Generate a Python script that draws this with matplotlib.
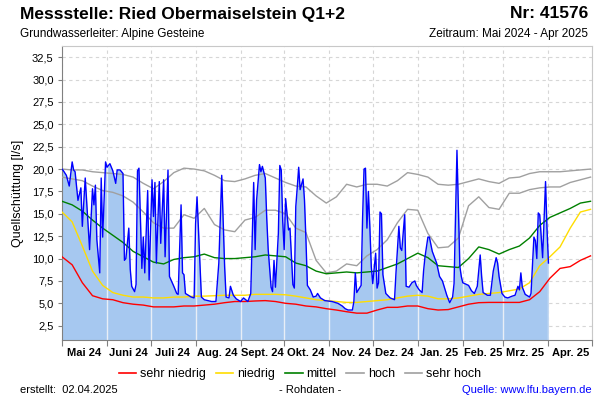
import numpy as np
import matplotlib
matplotlib.use("Agg")
import matplotlib.pyplot as plt
from matplotlib.lines import Line2D

plt.rcParams['font.family'] = ['Liberation Sans', 'DejaVu Sans']

start = np.datetime64('2024-05-01')

# weekly values of the statistic lines (l/s)
stat_days = np.arange(0, 365, 7)
sehr_niedrig = [10.2, 9.3, 7.3, 5.85, 5.5, 5.4, 5.07, 4.9, 4.8, 4.6,
                4.6, 4.6, 4.7, 4.7, 4.8, 4.9, 5.07, 5.2, 5.2,
                5.26, 5.3, 5.2, 5.0, 4.9, 4.7, 4.6, 4.4, 4.25, 4.06,
                3.9, 3.9, 4.25, 4.55, 4.55, 4.7, 4.7, 4.4, 4.25,
                4.3, 4.6, 4.9, 5.07, 5.1, 5.1, 5.1, 5.1, 5.4, 6.3, 7.8, 8.9, 9.1, 9.8, 10.3]
niedrig = [15.2, 14.1, 11.4, 8.6, 7.0, 6.2, 5.9, 5.7, 5.7, 5.6,
           5.6, 5.7, 5.7, 5.8, 5.8, 5.85, 5.9, 5.9, 5.9,
           6.0, 6.0, 6.0, 5.95, 5.8, 5.6, 5.4, 5.3, 5.2, 5.1,
           5.1, 5.2, 5.3, 5.4, 5.6, 5.8, 5.9, 5.8, 5.5,
           5.5, 5.6, 5.8, 6.0, 6.1, 6.2, 6.4, 6.6, 7.3, 9.2, 10.2, 11.3, 13.4, 15.2, 15.5]
mittel = [16.4, 16.0, 15.3, 14.3, 13.4, 12.6, 11.8, 10.8, 10.2, 9.6,
          9.4, 9.9, 10.1, 10.2, 10.5, 10.1, 10.0, 10.0, 10.1,
          10.2, 10.4, 10.3, 10.2, 9.5, 9.2, 8.6, 8.3, 8.4, 8.5,
          8.4, 8.5, 8.6, 9.0, 9.4, 10.0, 10.6, 10.1, 9.2,
          9.1, 9.0, 10.0, 11.3, 11.0, 10.5, 11.0, 11.4, 12.3, 13.7, 14.6, 15.1, 15.6, 16.2, 16.4]
hoch = [19.1, 18.9, 18.7, 18.1, 17.6, 17.4, 17.0, 16.3, 15.2, 14.0,
        13.4, 13.4, 14.9, 14.5, 15.6, 13.8, 13.2, 13.0, 14.3,
        14.6, 15.4, 15.4, 15.0, 13.4, 12.9, 9.8, 8.4, 8.6, 9.4,
        9.2, 10.3, 11.0, 12.1, 14.0, 15.5, 15.4, 12.8, 11.2,
        11.3, 12.3, 15.9, 16.9, 15.7, 15.5, 17.3, 17.3, 17.7, 17.9, 18.0, 18.0, 18.5, 18.8, 19.1]
sehr_hoch = [20.0, 19.9, 19.9, 19.7, 19.6, 19.5, 19.4, 19.1, 18.4, 17.8,
             18.6, 19.6, 20.1, 20.0, 19.8, 19.3, 18.7, 18.6, 18.9,
             19.3, 19.5, 19.0, 18.5, 18.1, 18.0, 17.0, 16.2, 16.9, 18.3,
             18.0, 18.3, 18.3, 18.1, 18.7, 19.6, 19.4, 19.1, 18.3,
             18.2, 18.3, 18.6, 18.9, 18.6, 18.4, 19.0, 19.1, 19.5, 19.7, 19.7, 19.7, 19.8, 19.9, 20.0]

# measured discharge (raw data), days since 1 May 2024
mess_days = [0, 1, 3, 5, 7, 8, 9, 11, 13, 14, 16, 19, 21, 22, 23, 24, 26, 27, 28, 30,
             31, 33, 35, 37, 38, 40, 42, 43, 44, 46, 47, 48, 50, 51, 52, 53, 55, 56, 57, 59,
             60, 62, 63, 64, 65, 67, 68, 70, 71, 73, 74, 77, 79, 80, 82, 83, 84, 85, 87, 89,
             91, 92, 93, 94, 96, 98, 103, 106, 108, 110, 112, 113, 115, 116, 118, 120, 123, 125, 128, 130,
             132, 133, 134, 136, 137, 138, 140, 141, 142, 144, 145, 146, 147, 149, 150, 151, 152, 153, 154, 155,
             156, 157, 159, 160, 161, 162, 163, 164, 166, 167, 168, 169, 171, 172, 173, 175, 176, 178, 181, 186,
             190, 193, 195, 197, 200, 201, 202, 203, 206, 207, 208, 209, 210, 211, 212, 213, 214, 216, 217, 218,
             219, 220, 221, 223, 226, 229, 230, 232, 233, 234, 236, 237, 239, 241, 243, 244, 246, 248, 249, 250,
             252, 253, 255, 258, 260, 262, 265, 267, 269, 270, 272, 273, 274, 275, 276, 280, 282, 284, 286, 288,
             289, 290, 293, 295, 297, 299, 300, 301, 303, 305, 307, 310, 312, 314, 315, 316, 317, 319, 322, 323,
             325, 326, 327, 328, 329, 331, 333, 334, 335]
mess_vals = [20.0, 19.8, 19.3, 18.1, 20.8, 19.9, 19.7, 16.5, 17.9, 13.6, 19.0, 11.0, 17.8, 16.0, 18.2, 12.1, 8.4, 19.0, 12.4, 20.8,
             20.2, 20.6, 19.8, 18.4, 19.9, 19.9, 19.5, 9.8, 10.0, 13.4, 8.8, 6.9, 6.3, 7.1, 19.8, 20.1, 8.9, 12.4, 8.4, 17.6,
             7.6, 18.8, 14.7, 18.5, 9.5, 18.6, 11.7, 18.8, 10.2, 19.9, 8.0, 6.9, 6.1, 6.0, 16.0, 8.4, 8.2, 6.1, 5.9, 5.7,
             5.6, 13.9, 16.9, 13.2, 5.7, 5.4, 5.2, 5.2, 9.5, 19.3, 9.1, 5.7, 5.6, 6.9, 5.9, 5.5, 5.2, 5.6, 5.2, 6.1,
             18.5, 11.0, 16.5, 20.5, 19.7, 20.3, 19.0, 14.5, 11.0, 6.8, 6.3, 9.8, 6.8, 12.8, 20.4, 19.9, 14.2, 11.0, 16.7, 14.9,
             13.2, 13.4, 7.1, 6.7, 15.8, 17.9, 20.2, 17.7, 18.9, 16.5, 12.1, 7.0, 6.5, 6.1, 5.7, 5.8, 6.1, 5.6, 5.3, 5.2,
             5.0, 4.7, 4.4, 4.25, 4.25, 5.2, 8.4, 6.2, 7.0, 14.5, 20.0, 20.1, 13.4, 17.5, 13.6, 9.1, 7.2, 10.6, 6.7, 7.3,
             15.2, 15.0, 8.2, 6.1, 5.6, 5.4, 8.4, 13.6, 11.2, 10.9, 14.9, 6.9, 6.8, 7.3, 7.5, 7.0, 6.5, 6.2, 8.6, 10.2,
             12.4, 12.4, 10.8, 9.5, 8.0, 7.5, 5.9, 5.07, 5.7, 7.2, 22.1, 15.8, 9.1, 8.0, 7.3, 7.0, 6.4, 6.1, 6.9, 10.4,
             8.0, 6.2, 5.9, 5.9, 8.6, 10.1, 9.5, 8.0, 6.1, 5.7, 5.6, 5.8, 5.9, 6.9, 6.5, 8.4, 6.8, 6.0, 5.7, 6.1,
             12.4, 12.0, 10.0, 15.1, 14.9, 10.1, 18.6, 13.4, 9.5]

month_labels = ['Mai 24', 'Juni 24', 'Juli 24', 'Aug. 24', 'Sept. 24', 'Okt. 24',
                'Nov. 24', 'Dez. 24', 'Jan. 25', 'Feb. 25', 'Mrz. 25', 'Apr. 25']
y_ticks = [2.5, 5.0, 7.5, 10.0, 12.5, 15.0, 17.5, 20.0, 22.5, 25.0, 27.5, 30.0, 32.5]

stat_dates = start + stat_days.astype('timedelta64[D]')
mess_dates = start + np.array(mess_days).astype('timedelta64[D]')
months = np.arange(np.datetime64('2024-05'), np.datetime64('2025-06'), np.timedelta64(1, 'M'))
month_starts = months.astype('datetime64[D]')
month_mids = month_starts[:-1] + (month_starts[1:] - month_starts[:-1]) / 2

fig = plt.figure(figsize=(6, 4), dpi=100)
ax = fig.add_axes([62 / 600, 60 / 400, 530 / 600, 294 / 400])
ymin, ymax = 0.9, 33.75

ax.grid(True, which='major', color='#d6d6d6', linestyle=(0, (3, 3)), linewidth=0.8)
ax.set_axisbelow(True)

fill = ax.fill_between(mess_dates, mess_vals, 0, color='#a6c8f0', linewidth=0, zorder=2)
vl = ax.vlines(month_starts[1:-1], 0, ymax, color='#e8eef6', linewidth=1.0, zorder=2.5)
vl.set_clip_path(fill.get_paths()[0], ax.transData)

ax.plot(stat_dates, sehr_hoch, color='#a0a0a0', lw=1.0, zorder=3)
ax.plot(stat_dates, hoch, color='#a0a0a0', lw=1.0, zorder=3)
ax.plot(stat_dates, mittel, color='#008000', lw=1.0, zorder=3)
ax.plot(stat_dates, niedrig, color='#ffdd00', lw=1.0, zorder=3)
ax.plot(stat_dates, sehr_niedrig, color='#ff0000', lw=1.0, zorder=3)
ax.plot(mess_dates, mess_vals, color='#0000ff', lw=1.0, zorder=4)

ax.set_xlim(month_starts[0], month_starts[-1])
ax.set_ylim(ymin, ymax)
ax.set_yticks(y_ticks)
ax.set_yticklabels([f'{v:.1f}'.replace('.', ',') for v in y_ticks], fontsize=8)
ax.set_xticks(month_starts)
ax.set_xticklabels([])
ax.set_xticks(month_mids, minor=True)
ax.set_xticklabels(month_labels, minor=True, fontsize=8, fontweight='bold')
ax.tick_params(axis='x', which='minor', length=0, pad=6)
ax.tick_params(axis='x', which='major', length=4, color='#808080')
ax.tick_params(axis='y', length=3, color='#808080', pad=3)
ax.set_ylabel('Quellschüttung [l/s]', fontsize=9, labelpad=6)
for s in ['left', 'bottom']:
    ax.spines[s].set_color('#808080')
for s in ['top', 'right']:
    ax.spines[s].set_color('#c8c8c8')

fig.text(20 / 600, 1 - 14 / 400, 'Messstelle: Ried Obermaiselstein Q1+2', fontsize=12.5,
         fontweight='bold', ha='left', va='center')
fig.text(588 / 600, 1 - 14 / 400, 'Nr: 41576', fontsize=12.5, fontweight='bold',
         ha='right', va='center')
fig.text(20 / 600, 1 - 34 / 400, 'Grundwasserleiter: Alpine Gesteine', fontsize=8.5,
         ha='left', va='center')
fig.text(588 / 600, 1 - 34 / 400, 'Zeitraum: Mai 2024 - Apr 2025', fontsize=8.5,
         ha='right', va='center')

handles = [Line2D([], [], color=c, lw=1.2) for c in
           ['#ff0000', '#ffdd00', '#008000', '#a0a0a0', '#a0a0a0']]
fig.legend(handles, ['sehr niedrig', 'niedrig', 'mittel', 'hoch', 'sehr hoch'],
           loc='center', bbox_to_anchor=(0.5, 1 - 374 / 400), ncol=5, frameon=False,
           fontsize=9, handlelength=1.4, handletextpad=0.3, columnspacing=0.8)

fig.text(20 / 600, 1 - 390 / 400, 'erstellt:  02.04.2025', fontsize=8, ha='left', va='center')
fig.text(310 / 600, 1 - 390 / 400, '- Rohdaten -', fontsize=8, ha='center', va='center')
fig.text(592 / 600, 1 - 390 / 400, 'Quelle: www.lfu.bayern.de', fontsize=8, ha='right',
         va='center', color='#0000ff')

fig.savefig('out.png', dpi=100)
